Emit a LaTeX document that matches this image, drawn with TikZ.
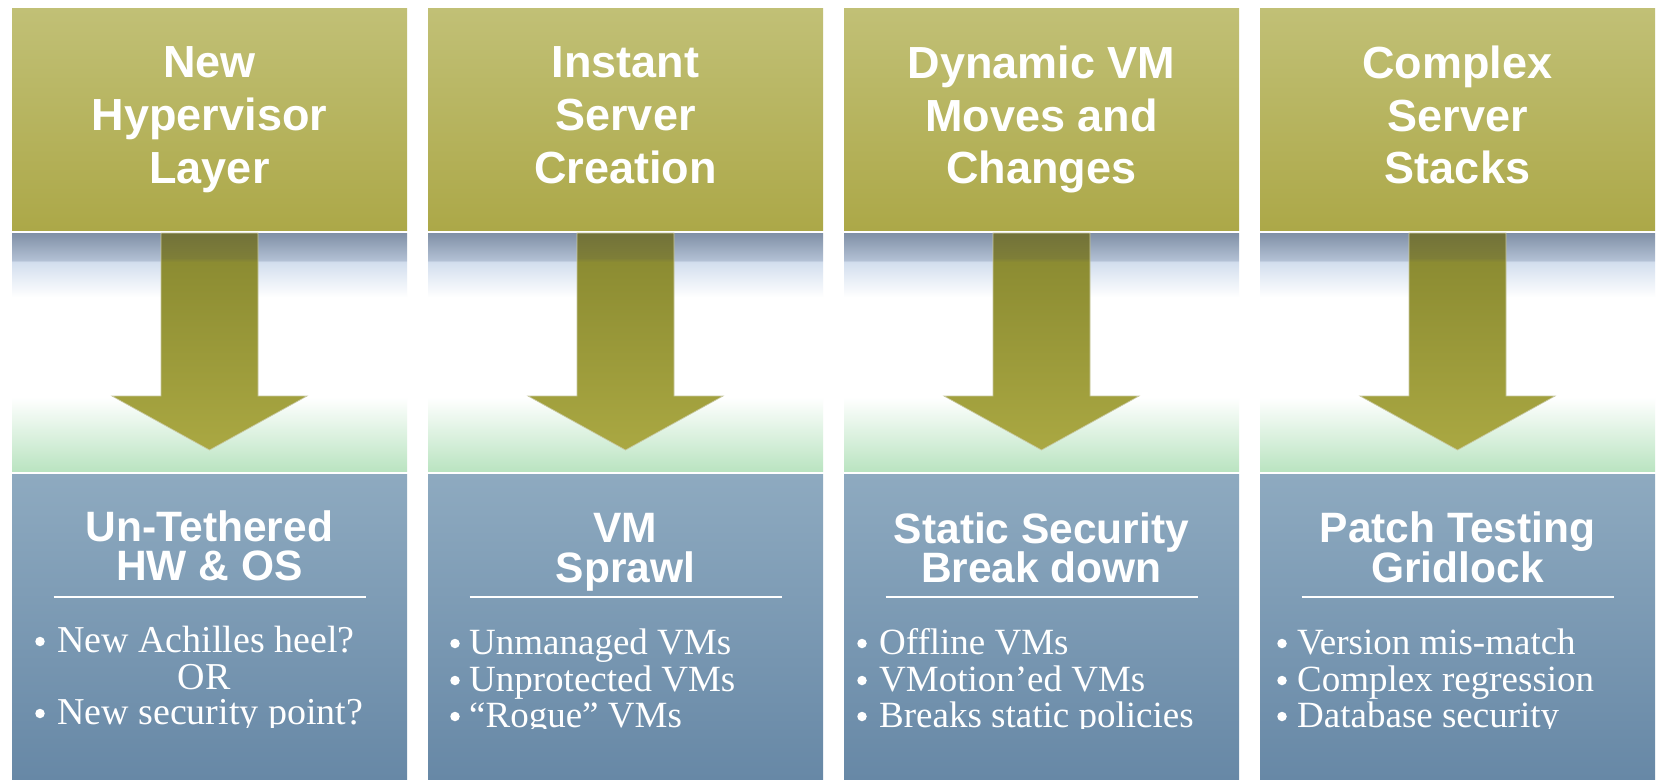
\documentclass[tikz,border=0pt]{standalone}
\usepackage{fontspec}
\setmainfont{Liberation Serif}
\newfontfamily\headfont{Liberation Sans}

% palette
\definecolor{hdrtop}{RGB}{193,192,118}
\definecolor{hdrbot}{RGB}{172,168,72}
\definecolor{bandgreen}{RGB}{186,228,193}
\definecolor{bandblue}{RGB}{210,222,238}
\definecolor{bandgrayb}{RGB}{178,192,212}
\definecolor{bandgraya}{RGB}{128,144,166}
\definecolor{arrbot}{RGB}{170,168,66}
\definecolor{arrmid}{RGB}{140,140,50}
\definecolor{arrdark}{RGB}{126,126,56}
\definecolor{arrtop}{RGB}{114,114,58}
\definecolor{lowtop}{RGB}{142,170,192}
\definecolor{lowbot}{RGB}{103,136,166}
\definecolor{arredge}{RGB}{200,200,160}

% vertical shadings; the part from 25bp (bottom) to 75bp (top) fills the path
\pgfdeclareverticalshading{hdrshade}{100bp}{color(0bp)=(hdrbot); color(25bp)=(hdrbot); color(75bp)=(hdrtop); color(100bp)=(hdrtop)}
\pgfdeclareverticalshading{midshade}{100bp}{color(0bp)=(bandgreen); color(25bp)=(bandgreen); color(40.5bp)=(white); color(61.5bp)=(white); color(68.9bp)=(bandblue); color(69.3bp)=(bandgrayb); color(75bp)=(bandgraya); color(100bp)=(bandgraya)}
\pgfdeclareverticalshading{arrshade}{100bp}{color(0bp)=(arrbot); color(25bp)=(arrbot); color(68.3bp)=(arrmid); color(69.25bp)=(arrdark); color(75bp)=(arrtop); color(100bp)=(arrtop)}
\pgfdeclareverticalshading{lowshade}{100bp}{color(0bp)=(lowbot); color(25bp)=(lowbot); color(75bp)=(lowtop); color(100bp)=(lowtop)}

\begin{document}
\begin{tikzpicture}[x=1pt,y=1pt,
  panel/.style={shade, inner sep=0pt, outer sep=0pt, minimum width=395pt, anchor=north west, draw=none},
  hdrbox/.style={panel, shading=hdrshade, minimum height=222pt},
  midbox/.style={panel, shading=midshade, minimum height=238pt},
  lowbox/.style={panel, shading=lowshade, minimum height=305pt},
  downarrow/.style={shade, shading=arrshade, draw=arredge, line width=0.7pt},
  headtxt/.style={text=white, inner sep=0pt, anchor=base, font=\headfont\bfseries\fontsize{45}{53}\selectfont},
  subtxt/.style={text=white, inner sep=0pt, anchor=base, font=\headfont\bfseries\fontsize{42.5}{40}\selectfont},
  bultxt/.style={text=white, inner sep=0pt, anchor=base west, font=\fontsize{37}{37}\selectfont},
  bulctr/.style={text=white, inner sep=0pt, anchor=base, font=\fontsize{38}{38}\selectfont},
  bulmark/.style={circle, fill=white, inner sep=0pt, minimum size=9.5pt},
  rulesty/.style={draw=white, line width=1.8pt}
]
\useasboundingbox (0,0) rectangle (1659,-779);
\fill[white] (0,0) rectangle (1659,-779);

% the four panels: header, transition band with arrow, result box
\foreach \k/\L in {1/12,2/428,3/844,4/1260}{
  \node[hdrbox] (hdr\k) at (\L,-8) {};
  \node[midbox] (mid\k) at (\L,-233) {};
  \node[lowbox] (low\k) at (\L,-474) {};
  \path[downarrow] ([xshift=-48.5pt]mid\k.north) -- ++(0,-163) -- ++(-49,0)
    -- ++(97.5,-54) -- ++(97.5,54) -- ++(-49,0) -- ++(0,163) -- cycle;
}

% header titles
\node[headtxt] (h1a) at (209.5,-77) {New};
\node[headtxt] (h1b) at (209.5,-130) {Hypervisor};
\node[headtxt] (h1c) at (209.5,-183) {Layer};
\node[headtxt] (h2a) at (625.5,-77) {Instant};
\node[headtxt] (h2b) at (625.5,-130) {Server};
\node[headtxt] (h2c) at (625.5,-183) {Creation};
\node[headtxt] (h3a) at (1041.5,-78) {Dynamic VM};
\node[headtxt] (h3b) at (1041.5,-131) {Moves and};
\node[headtxt] (h3c) at (1041.5,-183) {Changes};
\node[headtxt] (h4a) at (1457.5,-78) {Complex};
\node[headtxt] (h4b) at (1457.5,-131) {Server};
\node[headtxt] (h4c) at (1457.5,-183) {Stacks};

% result titles and rules
\node[subtxt] (s1a) at (209.5,-541) {Un-Tethered};
\node[subtxt] (s1b) at (209.5,-580) {HW \& OS};
\node[subtxt] (s2a) at (625.5,-542) {VM};
\node[subtxt] (s2b) at (625.5,-582) {Sprawl};
\node[subtxt] (s3a) at (1041.5,-543) {Static Security};
\node[subtxt] (s3b) at (1041.5,-582) {Break down};
\node[subtxt] (s4a) at (1457.5,-542) {Patch Testing};
\node[subtxt] (s4b) at (1457.5,-582) {Gridlock};
\foreach \c in {209.5,625.5,1041.5,1457.5}{
  \draw[rulesty] (\c-156,-597) -- (\c+156,-597);
}

% bullet lists, cut off at the lower text edge
\begin{scope}[bultxt/.append style={font=\fontsize{38}{38}\selectfont}]
  \clip (12,-474) rectangle (407,-727);
  \node[bulmark] (b1a) at (40,-641.5) {};
  \node[bultxt] (l1a) at (57,-652) {New Achilles heel?};
  \node[bulctr] (l1b) at (204,-689) {OR};
  \node[bulmark] (b1c) at (40,-713.5) {};
  \node[bultxt] (l1c) at (57,-724) {New security point?};
\end{scope}
\begin{scope}
  \clip (428,-474) rectangle (823,-728);
  \node[bulmark] (b2a) at (455,-643.5) {};
  \node[bultxt] (l2a) at (469,-654) {Unmanaged VMs};
  \node[bulmark] (b2b) at (455,-680.5) {};
  \node[bultxt] (l2b) at (469,-691) {Unprotected VMs};
  \node[bulmark] (b2c) at (455,-716.5) {};
  \node[bultxt] (l2c) at (469,-727) {“Rogue” VMs};
\end{scope}
\begin{scope}
  \clip (844,-474) rectangle (1239,-728);
  \node[bulmark] (b3a) at (862,-643.5) {};
  \node[bultxt] (l3a) at (879,-654) {Offline VMs};
  \node[bulmark] (b3b) at (862,-680.5) {};
  \node[bultxt] (l3b) at (879,-691) {VMotion’ed VMs};
  \node[bulmark] (b3c) at (862,-716.5) {};
  \node[bultxt] (l3c) at (879,-727) {Breaks static policies};
\end{scope}
\begin{scope}
  \clip (1260,-474) rectangle (1655,-728);
  \node[bulmark] (b4a) at (1282,-643.5) {};
  \node[bultxt] (l4a) at (1297,-654) {Version mis-match};
  \node[bulmark] (b4b) at (1282,-680.5) {};
  \node[bultxt] (l4b) at (1297,-691) {Complex regression};
  \node[bulmark] (b4c) at (1282,-716.5) {};
  \node[bultxt] (l4c) at (1297,-727) {Database security};
\end{scope}
\end{tikzpicture}
\end{document}
